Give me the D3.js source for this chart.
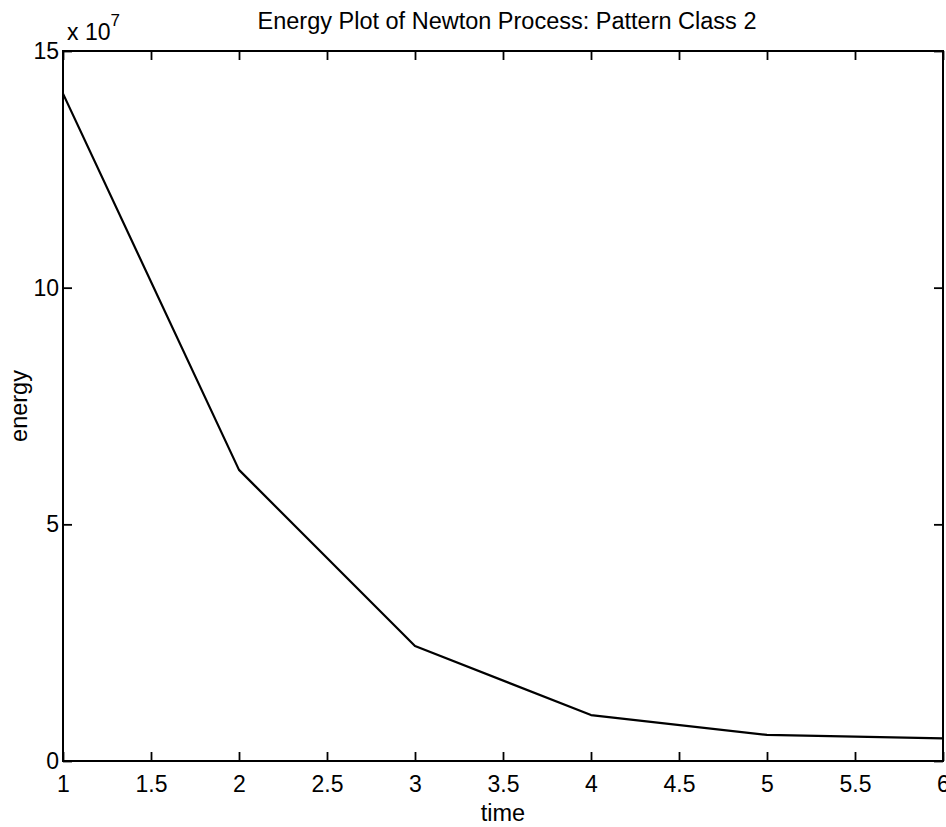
<!DOCTYPE html>
<html><head><meta charset="utf-8">
<script src="https://cdn.jsdelivr.net/npm/d3@7"></script>
<style>body{margin:0;background:#fff}svg{display:block}text{font-family:"Liberation Sans",Arial,sans-serif;fill:#000}</style>
</head><body><svg id="c" width="946" height="827"></svg>
<script>
const timeValues = [1, 2, 3, 4, 5, 6];
const energyValues = [14.1, 6.15, 2.43, 0.97, 0.55, 0.48]; // x 10^7
const xTicks = [1, 1.5, 2, 2.5, 3, 3.5, 4, 4.5, 5, 5.5, 6];
const yTicks = [0, 5, 10, 15];
const titleText = "Energy Plot of Newton Process: Pattern Class 2";
const xLabel = "time", yLabel = "energy";

const svg = d3.select("#c");
const L = 63, R = 943, T = 51, B = 761;
const x = d3.scaleLinear().domain([1, 6]).range([L, R]);
const y = d3.scaleLinear().domain([0, 15]).range([B, T]);
const fs = 23, tl = 9;
const ff = "Liberation Sans, Arial, sans-serif";

const g = svg.append("g");
// box
g.append("rect").attr("x", L).attr("y", T).attr("width", R - L).attr("height", B - T)
  .attr("fill", "none").attr("stroke", "#000").attr("stroke-width", 2);

const fmt = d => d3.format("")(d);
// x axis bottom
g.append("g").attr("transform", `translate(0,${B})`)
  .call(d3.axisBottom(x).tickValues(xTicks).tickSizeInner(-tl).tickSizeOuter(0).tickPadding(15).tickFormat(fmt))
  .call(a => { a.select(".domain").remove(); a.selectAll("line").attr("stroke-width", 1.8);
    a.selectAll("text").attr("font-size", fs).attr("font-family", ff).attr("fill", "#000"); });
// x axis top (ticks only)
g.append("g").attr("transform", `translate(0,${T})`)
  .call(d3.axisTop(x).tickValues(xTicks).tickSizeInner(-tl).tickSizeOuter(0).tickFormat(""))
  .call(a => { a.select(".domain").remove(); a.selectAll("line").attr("stroke-width", 1.8); });
// y axis left
g.append("g").attr("transform", `translate(${L},0)`)
  .call(d3.axisLeft(y).tickValues(yTicks).tickSizeInner(-tl).tickSizeOuter(0).tickPadding(4).tickFormat(fmt))
  .call(a => { a.select(".domain").remove(); a.selectAll("line").attr("stroke-width", 1.8);
    a.selectAll("text").attr("font-size", fs).attr("font-family", ff).attr("fill", "#000"); });
// y axis right
g.append("g").attr("transform", `translate(${R},0)`)
  .call(d3.axisRight(y).tickValues(yTicks).tickSizeInner(-tl).tickSizeOuter(0).tickFormat(""))
  .call(a => { a.select(".domain").remove(); a.selectAll("line").attr("stroke-width", 1.8); });

// line
const line = d3.line().x((d, i) => x(timeValues[i])).y(d => y(d));
g.append("path").datum(energyValues).attr("d", line).attr("fill", "none")
  .attr("stroke", "#000").attr("stroke-width", 2.2).attr("stroke-linejoin", "round");

// exponent
const ex = g.append("text").attr("x", L + 4).attr("y", 40).attr("font-size", fs);
ex.append("tspan").text("x 10");
ex.append("tspan").attr("dy", -14).attr("font-size", 17).text("7");

// title
g.append("text").attr("x", (L + R) / 2 + 4).attr("y", 29).attr("text-anchor", "middle")
  .attr("font-size", 23.5).text(titleText);
// labels
g.append("text").attr("x", (L + R) / 2).attr("y", 821).attr("text-anchor", "middle")
  .attr("font-size", 23.5).text(xLabel);
g.append("text").attr("transform", `translate(27,${(T + B) / 2}) rotate(-90)`).attr("text-anchor", "middle")
  .attr("font-size", 23.5).text(yLabel);
</script></body></html>
